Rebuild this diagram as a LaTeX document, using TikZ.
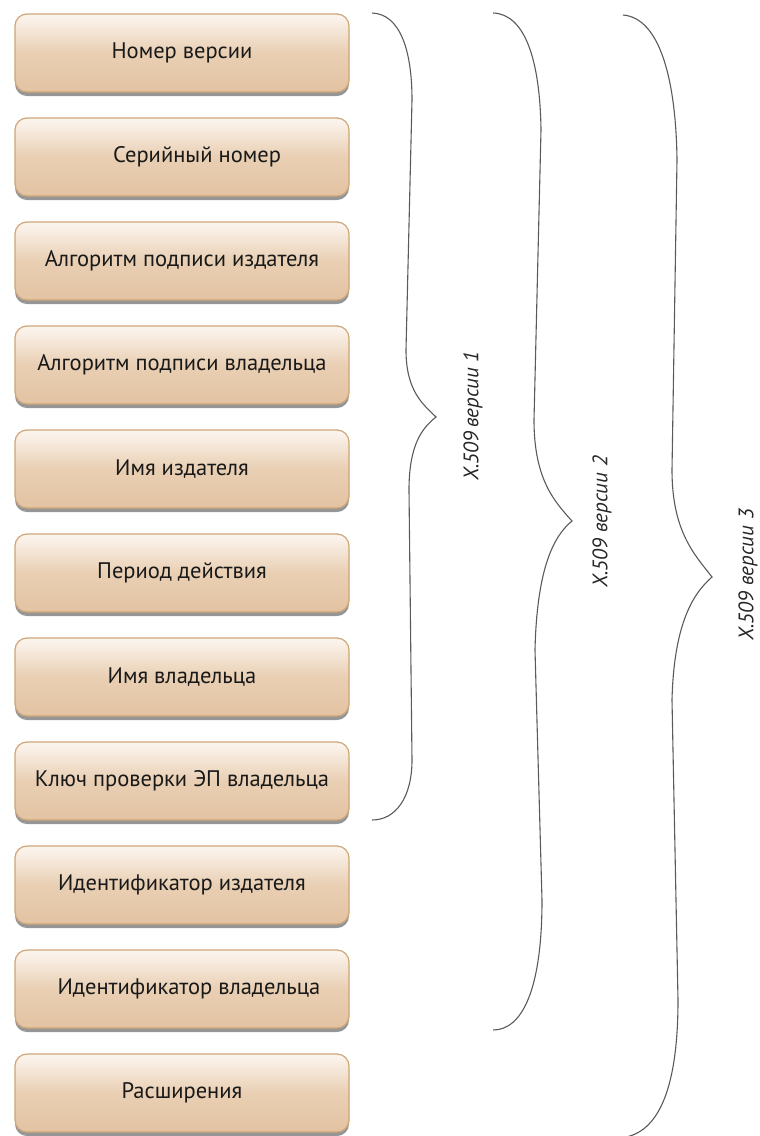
\documentclass[tikz,border=0pt]{standalone}
\usepackage{fontspec}
\setmainfont{PT Sans}
\usetikzlibrary{shadows}
\definecolor{boxtop}{HTML}{FCF6F0}
\definecolor{boxmid}{HTML}{E9CFB3}
\definecolor{boxbot}{HTML}{E2C3A2}
\definecolor{boxline}{HTML}{CFA577}
\definecolor{brace}{HTML}{5A5A5A}
\tikzset{
  fieldbox/.style={rounded corners=12pt, minimum width=334pt, minimum height=78pt,
    top color=boxtop, bottom color=boxbot, middle color=boxmid,
    draw=boxline, line width=1.2pt, inner sep=0pt,
    font=\fontsize{22.5}{26}\selectfont, text=black!90,
    drop shadow={shadow xshift=0pt, shadow yshift=-4pt, opacity=0.55, fill=black!75}},
  bracepath/.style={draw=brace, line width=1.1pt},
  bracelabel/.style={rotate=90, font=\fontsize{21}{24}\selectfont\itshape, text=black!85}
}
\begin{document}
\begin{tikzpicture}[x=1pt,y=-1pt]
\useasboundingbox (0,0) rectangle (760,1136);
\node[fieldbox] (b1) at (182,53) {Номер версии};
\node[fieldbox] (b2) at (182,157) {\hspace*{30pt}Серийный номер};
\node[fieldbox] (b3) at (182,261) {Алгоритм подписи издателя};
\node[fieldbox] (b4) at (182,365) {Алгоритм подписи владельца};
\node[fieldbox] (b5) at (182,469) {Имя издателя};
\node[fieldbox] (b6) at (182,573) {Период действия};
\node[fieldbox] (b7) at (182,677) {Имя владельца};
\node[fieldbox] (b8) at (182,781) {Ключ проверки ЭП владельца};
\node[fieldbox] (b9) at (182,885) {Идентификатор издателя};
\node[fieldbox] (b10) at (182,989) {\hspace*{14pt}Идентификатор владельца};
\node[fieldbox] (b11) at (182,1093) {Расширения};

% brace 1
\draw[bracepath] (372,13) .. controls (400,14) and (412,50) .. (412,100) -- (406,350)
  .. controls (406,392) and (424,405) .. (436,417)
  .. controls (422,428) and (409,445) .. (409,490) -- (412,760)
  .. controls (412,797) and (396,820) .. (372,820);
% brace 2
\draw[bracepath] (493,13) .. controls (525,14) and (540,60) .. (541,130) -- (534,420)
  .. controls (534,480) and (555,502) .. (572,521)
  .. controls (555,535) and (537,565) .. (535,650) -- (542,900)
  .. controls (542,990) and (522,1030) .. (493,1030);
% brace 3
\draw[bracepath] (623,15) .. controls (660,18) and (676,80) .. (677,160) -- (672,470)
  .. controls (672,532) and (695,555) .. (712,577)
  .. controls (695,592) and (674,620) .. (672,700) -- (678,1000)
  .. controls (678,1085) and (660,1130) .. (626,1137);

\node[bracelabel] (l1) at (473,416) {X.509\,версии 1};
\node[bracelabel] (l2) at (602,522) {X.509 версии 2};
\node[bracelabel] (l3) at (748,575) {X.509 версии 3};
\end{tikzpicture}
\end{document}
